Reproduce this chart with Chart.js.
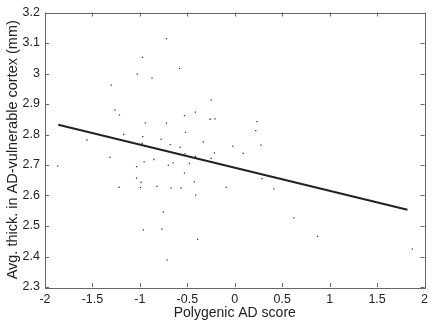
<!DOCTYPE html>
<html><head><meta charset="utf-8">
<script src="https://cdn.jsdelivr.net/npm/chart.js@4/dist/chart.umd.min.js"></script>
<style>html,body{margin:0;padding:0;background:#fff;} #wrap{width:433px;height:322px;}</style>
</head><body><div id="wrap"><canvas id="c" width="433" height="322"></canvas></div>
<script>
// Polygenic AD score (x) vs average thickness (y)
const scoreX = [-1.866,-1.558,-1.170,-0.970,-0.976,-1.316,-1.035,-0.955,-1.035,-0.987,-1.219,-0.994,-0.963,
  -0.720,-0.973,-1.028,-0.872,-0.582,-1.302,-1.264,-1.215,-0.942,-0.720,-0.776,-0.682,-0.575,-0.852,-0.700,
  -0.651,-0.820,-0.672,-0.565,-0.752,-0.768,-0.713,-0.249,-0.415,-0.530,-0.260,-0.208,-0.519,-0.332,-0.021,
  0.232,0.221,0.276,0.089,-0.523,-0.415,-0.215,-0.249,-0.478,-0.530,-0.426,-0.412,-0.090,-0.391,0.287,0.411,
  0.623,0.872,1.872];
const thickY = [2.696,2.782,2.800,2.793,2.771,2.725,2.695,2.710,2.657,2.643,2.627,2.626,2.487,
  3.114,3.053,2.998,2.985,3.017,2.962,2.881,2.864,2.838,2.837,2.784,2.767,2.758,2.718,2.699,
  2.707,2.630,2.624,2.624,2.546,2.490,2.388,2.913,2.873,2.862,2.850,2.851,2.807,2.776,2.762,
  2.842,2.813,2.765,2.738,2.737,2.728,2.740,2.722,2.705,2.673,2.645,2.601,2.627,2.456,2.655,2.622,
  2.527,2.466,2.424];
// regression line end points
const fitX = [-1.86, 1.82];
const fitY = [2.832, 2.553];
// axis ticks
const xTicks = [-2,-1.5,-1,-0.5,0,0.5,1,1.5,2];
const yTicks = [2.3,2.4,2.5,2.6,2.7,2.8,2.9,3.0,3.1,3.2];
const xTitle = 'Polygenic AD score';
const yTitle = 'Avg. thick. in AD-vulnerable cortex (mm)';

const scatterPts = scoreX.map((x,i)=>({x:x,y:thickY[i]}));
const fitPts = fitX.map((x,i)=>({x:x,y:fitY[i]}));

const FONT = 'Liberation Sans, Arial, Helvetica, sans-serif';
const AXIS = '#666';

const boxTicks = {
  id:'boxTicks',
  afterDraw(chart){
    const {ctx, chartArea:a, scales:{x,y}} = chart;
    ctx.save();
    ctx.strokeStyle = AXIS; ctx.lineWidth = 1;
    ctx.beginPath();
    const L = 4;
    xTicks.forEach(v=>{
      const p = Math.round(x.getPixelForValue(v))+0.5;
      ctx.moveTo(p,a.bottom); ctx.lineTo(p,a.bottom-L);
      ctx.moveTo(p,a.top); ctx.lineTo(p,a.top+L);
    });
    yTicks.forEach(v=>{
      const p = Math.round(y.getPixelForValue(v))+0.5;
      ctx.moveTo(a.left,p); ctx.lineTo(a.left+L,p);
      ctx.moveTo(a.right,p); ctx.lineTo(a.right-L,p);
    });
    ctx.stroke();
    ctx.strokeRect(Math.round(a.left)+0.5, Math.round(a.top)+0.5, Math.round(a.right-a.left), Math.round(a.bottom-a.top));
    ctx.restore();
  }
};

new Chart(document.getElementById('c'), {
  type:'scatter',
  data:{datasets:[
    {type:'scatter', data:scatterPts, pointStyle:'rect', pointRadius:0.9, pointBorderWidth:0,
     backgroundColor:'#333', borderColor:'#333', order:2},
    {type:'line', data:fitPts, borderColor:'#222', borderWidth:2, pointRadius:0, fill:false, tension:0, order:1}
  ]},
  options:{
    responsive:false, animation:false, devicePixelRatio:1,
    layout:{padding:{left:0, top:12, right:3, bottom:0}},
    plugins:{legend:{display:false}, tooltip:{enabled:false}},
    scales:{
      x:{type:'linear', min:-2, max:2,
        afterBuildTicks:s=>{s.ticks = xTicks.map(v=>({value:v}));},
        afterFit:s=>{s.height = 35;},
        grid:{display:false, drawTicks:false}, border:{display:false},
        ticks:{padding:5, color:'#222', font:{family:FONT, size:12.5}, maxRotation:0, autoSkip:false,
          callback:v=>String(Number(v.toFixed(2)))},
        title:{display:true, text:xTitle, color:'#222', font:{family:FONT, size:14}, padding:{top:0,bottom:0}}
      },
      y:{type:'linear', min:2.3, max:3.2,
        afterBuildTicks:s=>{s.ticks = yTicks.map(v=>({value:v}));},
        afterFit:s=>{s.width = 45;},
        grid:{display:false, drawTicks:false}, border:{display:false},
        ticks:{padding:5, color:'#222', font:{family:FONT, size:12.5}, autoSkip:false,
          callback:v=>String(Number(v.toFixed(2)))},
        title:{display:true, text:yTitle, color:'#222', font:{family:FONT, size:14.5}, padding:{top:4,bottom:0}}
      }
    }
  },
  plugins:[boxTicks]
});
</script></body></html>
